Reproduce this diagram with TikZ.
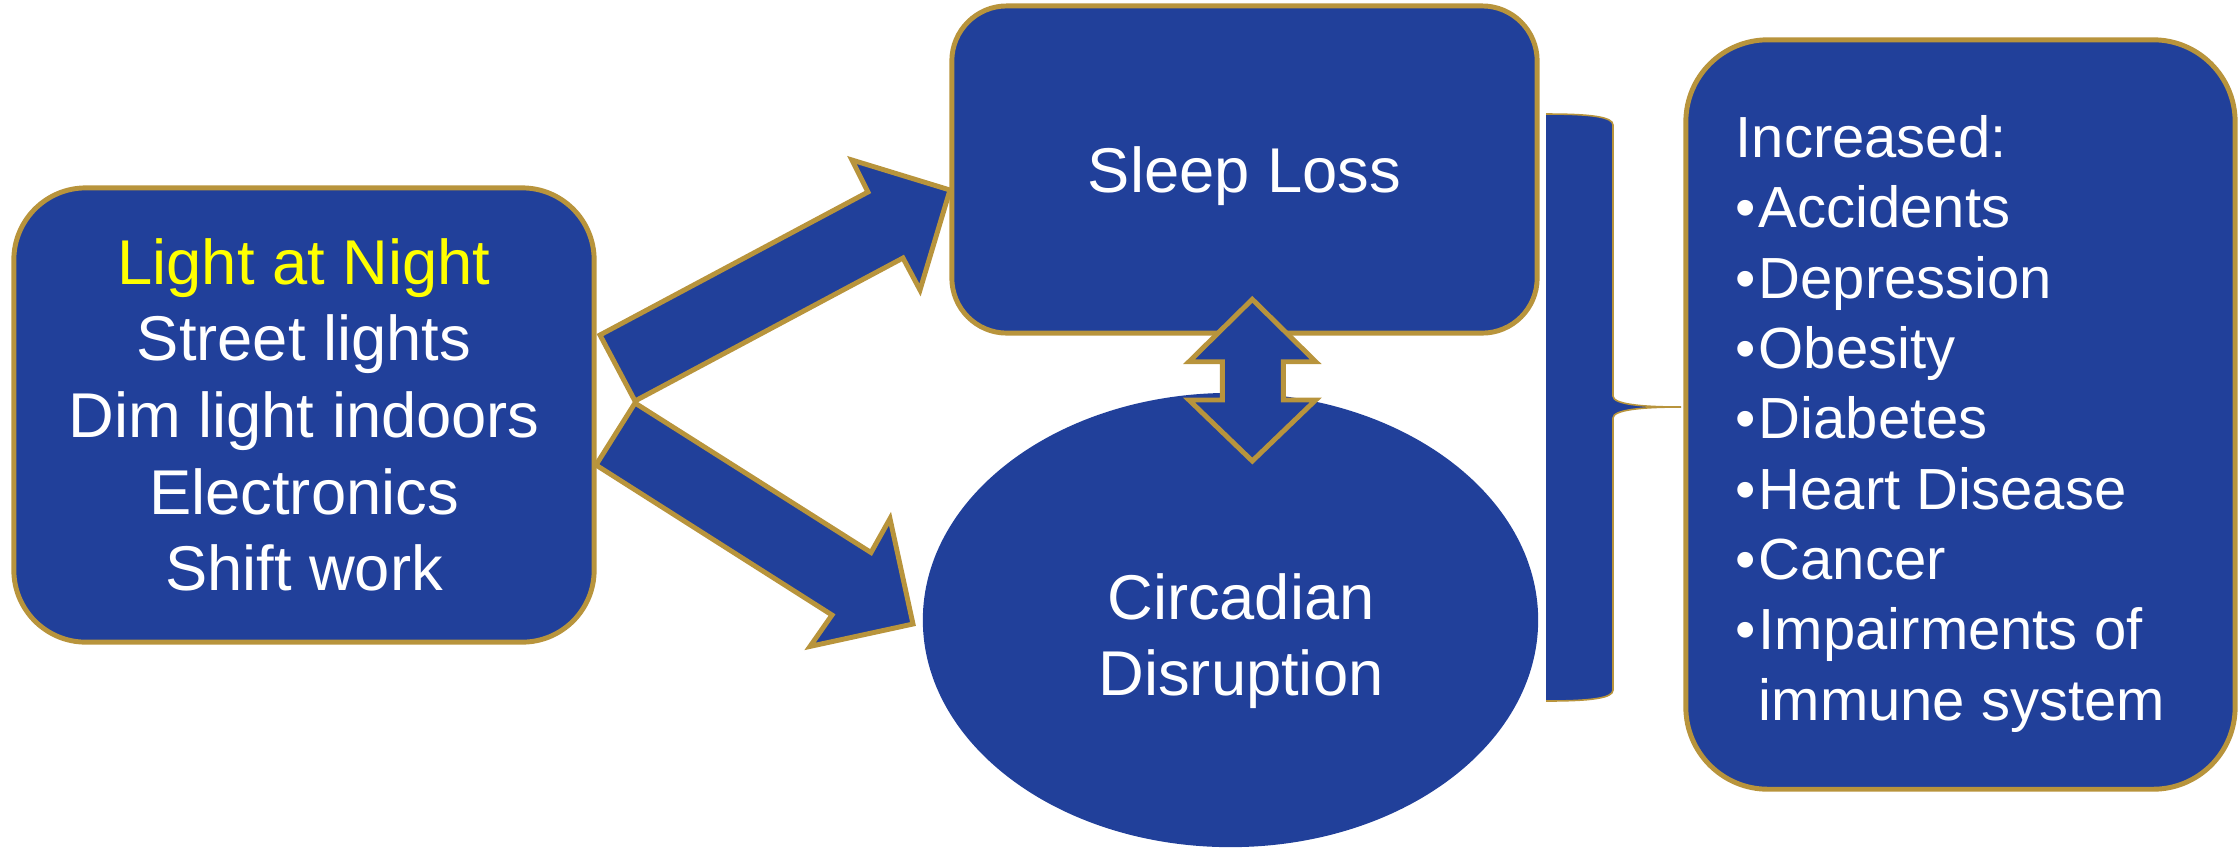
\documentclass[tikz,border=0pt]{standalone}
\usepackage{fontspec}
\setmainfont{Liberation Sans}
\usetikzlibrary{shapes.geometric}
\definecolor{boxblue}{RGB}{33,64,154}
\definecolor{gold}{RGB}{184,148,60}
\definecolor{hiyellow}{RGB}{255,255,0}
\newcommand{\bul}{•\kern0.8pt}
\begin{document}
\begin{tikzpicture}[x=0.01cm,y=-0.01cm,
  box/.style={draw=gold, fill=boxblue, line width=1.4pt, rounded corners=#1,
    inner sep=0pt, text=white, align=center, font=\fontsize{18}{21.8}\selectfont},
  blockarrow/.style={draw=gold, fill=boxblue, line width=1.4pt, line join=miter},
  bigtext/.style={text=white, inner sep=0pt, align=center, font=\fontsize{18}{21.8}\selectfont},
  listtext/.style={text=white, inner sep=0pt, align=left, font=\fontsize{16.5}{20}\selectfont}]
\useasboundingbox (0,0) rectangle (2238,847);

% boxes
\node[box=0.72cm, minimum width=5.8cm, minimum height=4.54cm] (light) at (304,415)
  {\textcolor{hiyellow}{Light at Night}\\Street lights\\Dim light indoors\\Electronics\\Shift work};
\node[box=0.55cm, minimum width=5.85cm, minimum height=3.27cm, text depth=0pt] (sleep) at (1244.5,169.5) {Sleep Loss};
\node[ellipse, fill=boxblue, minimum width=6.15cm, minimum height=4.54cm, inner sep=0pt] (circ) at (1230.5,620) {};
\node[bigtext] (circtext) at (1241,641) {Circadian\\Disruption};
\node[box=0.82cm, minimum width=5.49cm, minimum height=7.49cm] (effects) at (1960.5,414.5) {};
\node[listtext, anchor=west] (list) at (1735,423.7)
  {Increased:\\\bul Accidents\\\bul Depression\\\bul Obesity\\\bul Diabetes\\\bul Heart Disease\\\bul Cancer\\\bul Impairments of\\\hphantom{\bul}immune system};

% block arrows from the left box
\coordinate (upTip) at (950,190);
\coordinate (lowTip) at (913,624);
\draw[blockarrow] (600,335) -- (868,192) -- (852,160) -- (upTip) -- (920,290) -- (903,258) -- (635,401) -- cycle;
\draw[blockarrow] (635,403) -- (871,552.5) -- (890,518.6) -- (lowTip) -- (810,646.4) -- (832,615) -- (596,465) -- cycle;

% double arrow between sleep loss and circadian disruption
\draw[blockarrow] (1252.3,299.3) -- (1315.7,361.7) -- (1283.3,361.7) -- (1283.3,400) -- (1315.7,400)
  -- (1252.3,461) -- (1189,400) -- (1222.3,400) -- (1222.3,361.7) -- (1189,361.7) -- cycle;

% brace
\fill[boxblue] (1546,114) .. controls (1592,114) and (1613,117) .. (1613,125) -- (1613,396)
  .. controls (1613,404) and (1640,407) .. (1681,407)
  .. controls (1640,407) and (1613,410) .. (1613,418) -- (1613,690)
  .. controls (1613,698) and (1592,701) .. (1546,701) -- cycle;
\draw[gold, line width=0.45pt] (1546,114) .. controls (1592,114) and (1613,117) .. (1613,125) -- (1613,396)
  .. controls (1613,404) and (1640,407) .. (1681,407)
  .. controls (1640,407) and (1613,410) .. (1613,418) -- (1613,690)
  .. controls (1613,698) and (1592,701) .. (1546,701);
\end{tikzpicture}
\end{document}
